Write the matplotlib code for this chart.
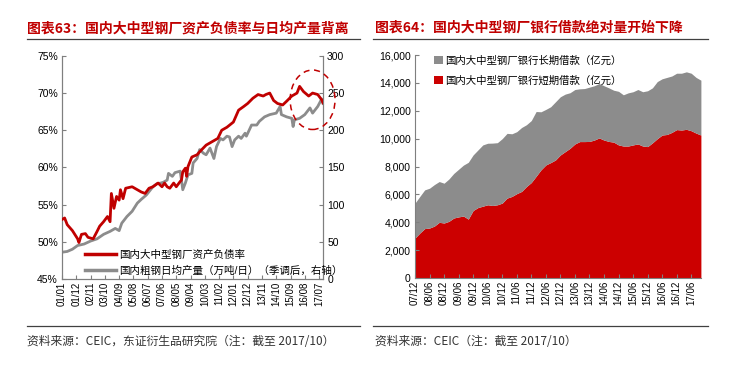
import matplotlib
matplotlib.use('Agg')
import matplotlib.pyplot as plt
from matplotlib.patches import Ellipse
from matplotlib.lines import Line2D
from matplotlib.ticker import FuncFormatter
import numpy as np

plt.rcParams['font.family'] = ['Liberation Sans', 'Noto Sans CJK SC']

# left chart: debt ratio (%) and daily crude steel output (10k t/day)
debt_dates = ['2001-01', '2001-03', '2001-05', '2001-09', '2002-01', '2002-02', '2002-04', '2002-07',
              '2002-09', '2003-01', '2003-04', '2003-06', '2003-09', '2003-12', '2004-02', '2004-03',
              '2004-05', '2004-07', '2004-09', '2004-10', '2004-12', '2005-02', '2005-07', '2005-11',
              '2006-02', '2006-05', '2006-08', '2006-11', '2007-03', '2007-06', '2007-08', '2007-10',
              '2007-12', '2008-03', '2008-05', '2008-08', '2008-09', '2008-10', '2008-12', '2009-01',
              '2009-02', '2009-05', '2009-09', '2009-11', '2010-04', '2010-10', '2011-01', '2011-04',
              '2011-08', '2012-01', '2012-05', '2012-09', '2012-12', '2013-04', '2013-08', '2013-12',
              '2014-02', '2014-05', '2014-08', '2014-11', '2015-03', '2015-06', '2015-10', '2016-02',
              '2016-04', '2016-07', '2016-11', '2017-02', '2017-06', '2017-09', '2017-10']
debt_ratio = [53.0, 53.2, 52.3, 51.5, 50.4, 49.9, 51.0, 51.1,
              50.6, 50.4, 51.4, 52.1, 52.7, 53.4, 52.7, 56.5,
              54.5, 56.1, 55.6, 57.0, 55.8, 57.2, 57.4, 57.0,
              56.7, 56.5, 57.2, 57.4, 57.9, 57.4, 57.9, 57.4,
              57.2, 57.9, 57.4, 58.1, 58.3, 59.4, 59.9, 58.8,
              60.1, 61.4, 61.7, 62.1, 63.0, 63.6, 63.9, 65.0,
              65.4, 66.1, 67.7, 68.2, 68.6, 69.3, 69.8, 69.6,
              69.8, 70.0, 69.0, 68.6, 68.4, 68.9, 69.6, 70.0,
              70.9, 70.2, 69.6, 70.0, 69.8, 69.1, 68.7]

prod_dates = ['2001-01', '2001-05', '2001-09', '2002-01', '2002-06', '2002-11', '2003-04', '2003-09',
              '2004-02', '2004-06', '2004-09', '2004-11', '2005-03', '2005-07', '2005-11', '2006-02',
              '2006-06', '2006-11', '2007-02', '2007-05', '2007-07', '2007-10', '2007-11', '2008-02',
              '2008-04', '2008-08', '2008-09', '2008-10', '2008-12', '2009-02', '2009-05', '2009-06',
              '2009-09', '2009-11', '2010-02', '2010-04', '2010-07', '2010-10', '2010-12', '2011-03',
              '2011-05', '2011-08', '2011-10', '2011-12', '2012-02', '2012-05', '2012-07', '2012-10',
              '2012-11', '2013-03', '2013-07', '2013-09', '2014-01', '2014-05', '2014-10', '2015-01',
              '2015-02', '2015-06', '2015-10', '2015-11', '2015-12', '2016-04', '2016-08', '2016-12',
              '2017-02', '2017-06', '2017-09', '2017-10']
daily_output = [36, 37, 40, 45, 47, 51, 54, 60,
                64, 68, 65, 75, 84, 91, 102, 107,
                113, 124, 128, 129, 130, 133, 142, 138,
                143, 145, 133, 120, 129, 140, 142, 156,
                162, 174, 169, 167, 176, 162, 178, 189,
                187, 192, 191, 178, 187, 192, 189, 196,
                192, 207, 207, 212, 218, 221, 223, 232,
                221, 218, 216, 205, 214, 216, 221, 230,
                223, 232, 242, 236]

# right chart: bank loans (100m yuan), bimonthly 2007/12 - 2017/10
loan_dates = ['2007-12', '2008-02', '2008-04', '2008-06', '2008-08', '2008-10', '2008-12', '2009-02',
              '2009-04', '2009-06', '2009-08', '2009-10', '2009-12', '2010-02', '2010-04', '2010-06',
              '2010-08', '2010-10', '2010-12', '2011-02', '2011-04', '2011-06', '2011-08', '2011-10',
              '2011-12', '2012-02', '2012-04', '2012-06', '2012-08', '2012-10', '2012-12', '2013-02',
              '2013-04', '2013-06', '2013-08', '2013-10', '2013-12', '2014-02', '2014-04', '2014-06',
              '2014-08', '2014-10', '2014-12', '2015-02', '2015-04', '2015-06', '2015-08', '2015-10',
              '2015-12', '2016-02', '2016-04', '2016-06', '2016-08', '2016-10', '2016-12', '2017-02',
              '2017-04', '2017-06', '2017-08', '2017-10']
total_loans = [5370, 5850, 6320, 6440, 6700, 6920, 6800, 7100,
               7500, 7800, 8100, 8300, 8830, 9190, 9550, 9670,
               9680, 9710, 10000, 10380, 10350, 10500, 10800, 11000,
               11300, 11950, 11930, 12100, 12290, 12650, 13010, 13200,
               13300, 13530, 13580, 13600, 13700, 13800, 13960, 13800,
               13650, 13480, 13400, 13150, 13290, 13370, 13530, 13370,
               13440, 13650, 14100, 14300, 14400, 14500, 14700, 14700,
               14800, 14700, 14400, 14200]
short_loans = [2860, 3220, 3540, 3580, 3720, 3990, 3940, 4060,
               4300, 4380, 4440, 4220, 4840, 5050, 5150, 5250,
               5200, 5250, 5370, 5730, 5850, 6050, 6210, 6560,
               6850, 7300, 7760, 8110, 8280, 8470, 8830, 9070,
               9310, 9620, 9790, 9790, 9800, 9900, 10050, 9900,
               9800, 9750, 9550, 9470, 9470, 9550, 9620, 9470,
               9430, 9700, 10000, 10260, 10300, 10450, 10650, 10620,
               10670, 10570, 10400, 10260]


def month_idx(d, start):
    y, m = d.split('-')
    y0, m0 = start.split('-')
    return (int(y) - int(y0)) * 12 + int(m) - int(m0)


def month_label(i, start):
    y0, m0 = start.split('-')
    t = int(y0) * 12 + int(m0) - 1 + i
    return '%02d/%02d' % ((t // 12) % 100, t % 12 + 1)


RED = '#C00000'
GRAY = '#8C8C8C'
SPINE = '#7F7F7F'
CJK = ['Noto Sans CJK SC', 'DejaVu Sans']

fig = plt.figure(figsize=(7.35, 3.7), dpi=100)

# ---------- left chart ----------
ax = fig.add_axes([0.0844, 0.246, 0.355, 0.603])
ax2 = ax.twinx()
s1 = '2001-01'
xd = [month_idx(d, s1) for d in debt_dates]
xp = [month_idx(d, s1) for d in prod_dates]
ax.plot(xd, debt_ratio, color=RED, lw=2.0, zorder=3)
ax2.plot(xp, daily_output, color=GRAY, lw=2.0)
ax.set_zorder(ax2.get_zorder() + 1)
ax.patch.set_visible(False)

ax.set_xlim(0, 201)
ax.set_ylim(45, 75)
ax2.set_ylim(0, 300)
ax.set_yticks(np.arange(45, 76, 5))
ax.yaxis.set_major_formatter(FuncFormatter(lambda v, p: '%d%%' % v))
ax2.set_yticks(np.arange(0, 301, 50))
lt = list(range(0, 202, 11))
ax.set_xticks(lt)
ax.set_xticklabels([month_label(i, s1) for i in lt], rotation=90)

e = Ellipse((193, 69.1), 34.6, 8.0, fill=False, ls=(0, (4, 3)), ec=RED, lw=1.1,
            clip_on=False, zorder=5)
ax.add_patch(e)

for a in (ax, ax2):
    a.spines['top'].set_visible(False)
    for s in ('left', 'right', 'bottom'):
        a.spines[s].set_color(SPINE)
    a.tick_params(direction='in', length=3, color=SPINE, labelsize=7.5, pad=3)
ax.tick_params(axis='x', labelsize=7, pad=2)

handles = [Line2D([], [], color=RED, lw=2.5), Line2D([], [], color=GRAY, lw=2.5)]
ax.legend(handles, ['国内大中型钢厂资产负债率', '国内粗钢日均产量（万吨/日）（季调后，右轴）'],
          loc='lower left', bbox_to_anchor=(0.05, -0.03), frameon=False, fontsize=7.6,
          handlelength=3.0, handletextpad=0.3, labelspacing=0.6)

# ---------- right chart ----------
bx = fig.add_axes([0.5646, 0.249, 0.389, 0.602])
s2 = '2007-12'
xl = [month_idx(d, s2) for d in loan_dates]
bx.fill_between(xl, 0, short_loans, color='#CC0000', lw=0, label='国内大中型钢厂银行短期借款（亿元）')
bx.fill_between(xl, short_loans, total_loans, color=GRAY, lw=0, label='国内大中型钢厂银行长期借款（亿元）')
bx.set_xlim(0, 118)
bx.set_ylim(0, 16000)
bx.set_yticks(np.arange(0, 16001, 2000))
bx.yaxis.set_major_formatter(FuncFormatter(lambda v, p: '{:,.0f}'.format(v)))
rt = list(range(0, 119, 6))
bx.set_xticks(rt)
bx.set_xticklabels([month_label(i, s2) for i in rt], rotation=90)
bx.spines['top'].set_visible(False)
bx.spines['right'].set_visible(False)
for s in ('left', 'bottom'):
    bx.spines[s].set_color(SPINE)
bx.tick_params(direction='in', length=3, color=SPINE, labelsize=7.5, pad=3)
bx.tick_params(axis='x', labelsize=7, pad=2)
h, l = bx.get_legend_handles_labels()
bx.legend(h[::-1], l[::-1], loc='upper left', bbox_to_anchor=(0.035, 1.04), frameon=False,
          fontsize=7.5, handlelength=0.8, handleheight=0.8, handletextpad=0.2, labelspacing=0.9)

# ---------- titles, rules, sources ----------
fig.text(0.037, 0.924, '图表63：国内大中型钢厂资产负债率与日均产量背离', color=RED,
         fontsize=10, fontweight='bold', va='center', family=CJK)
fig.text(0.510, 0.924, '图表64：国内大中型钢厂银行借款绝对量开始下降', color=RED,
         fontsize=10, fontweight='bold', va='center', family=CJK)
for x0, x1 in ((0.037, 0.490), (0.507, 0.963)):
    fig.add_artist(Line2D([x0, x1], [0.895, 0.895], color='#404040', lw=0.9))
    fig.add_artist(Line2D([x0, x1], [0.119, 0.119], color='#404040', lw=0.9))
fig.text(0.037, 0.076, '资料来源：CEIC，东证衍生品研究院（注：截至 2017/10）', color='#333333',
         fontsize=8.5, va='center', family=CJK)
fig.text(0.510, 0.076, '资料来源：CEIC（注：截至 2017/10）', color='#333333',
         fontsize=8.5, va='center', family=CJK)

fig.savefig('out.png', dpi=100, facecolor='white')
